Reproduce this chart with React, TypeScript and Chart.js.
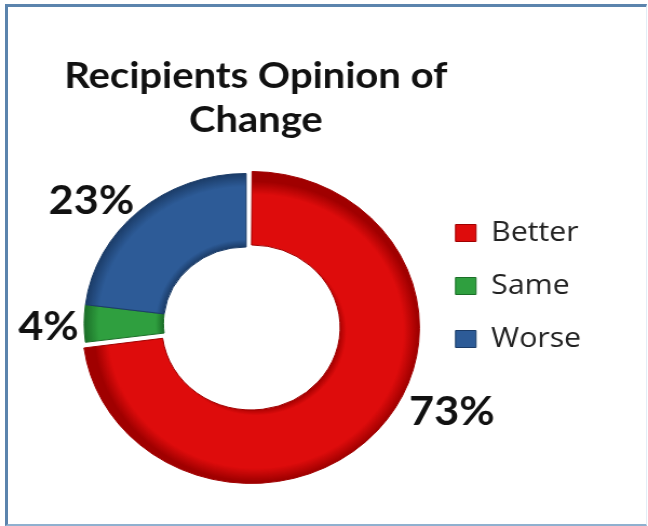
import React, { useEffect, useRef } from "react";
import { Chart, registerables } from "chart.js";

Chart.register(...registerables);

// ---- data ----
const categories = ["Better", "Same", "Worse"];
const values = [73, 4, 23];
const percentLabels = ["73%", "4%", "23%"];
const titleLines = ["Recipients Opinion of", "Change"];

// ---- styles ----
const baseColors = ["#de0c0c", "#2f9f3f", "#2d5b97"];
const edgeColors = ["#a00000", "#1b6e28", "#1b3c68"];
const sliceShift = [6, 0, 0]; // explode distance in px
const labelNudges: [number, number][] = [
  [73.5, -14.7],
  [-33, 4],
  [-44, -10],
];

const SX = 1.08; // horizontal stretch of the whole picture
const CW = 600;
const CH = 526;
const RADIUS = 150;
const CUTOUT = 0.51;

function sliceFill(c: any) {
  const i = c.dataIndex ?? 0;
  const base = baseColors[i % baseColors.length];
  if (c.type !== "data") return base;
  const chart = c.chart;
  const area = chart.chartArea;
  if (!area) return base;
  const total = values.reduce((a, b) => a + b, 0);
  let before = 0;
  for (let k = 0; k < i; k++) before += values[k];
  const mid = -Math.PI / 2 + (2 * Math.PI * (before + values[i] / 2)) / total;
  const off = sliceShift[i] || 0;
  const cx = (area.left + area.right) / 2 + Math.cos(mid) * off;
  const cy = (area.top + area.bottom) / 2 + Math.sin(mid) * off;
  const inner = RADIUS * CUTOUT;
  const g = chart.ctx.createRadialGradient(cx, cy, inner, cx, cy, RADIUS);
  g.addColorStop(0, edgeColors[i]);
  g.addColorStop(0.1, base);
  g.addColorStop(0.82, base);
  g.addColorStop(1, edgeColors[i]);
  return g;
}

const textPlugin = {
  id: "chartTexts",
  afterDatasetsDraw(chart: any) {
    const ctx = chart.ctx as CanvasRenderingContext2D;
    const meta = chart.getDatasetMeta(0);
    ctx.save();
    ctx.fillStyle = "#111";
    ctx.textAlign = "center";
    ctx.textBaseline = "middle";
    ctx.font = "bold 40px Lato, 'Open Sans', sans-serif";
    meta.data.forEach((arc: any, i: number) => {
      const p = arc.getProps(["x", "y", "startAngle", "endAngle", "outerRadius"], true);
      const mid = (p.startAngle + p.endAngle) / 2;
      const r = p.outerRadius + (sliceShift[i] || 0);
      const x = p.x + Math.cos(mid) * r + labelNudges[i][0];
      const y = p.y + Math.sin(mid) * r + labelNudges[i][1];
      ctx.fillText(percentLabels[i], x, y);
    });
    const area = chart.chartArea;
    const tx = (area.left + area.right) / 2 + 9;
    ctx.textBaseline = "alphabetic";
    ctx.font = "bold 37px Lato, 'Open Sans', sans-serif";
    ctx.fillText(titleLines[0], tx, 88);
    ctx.fillText(titleLines[1], tx, 132);
    ctx.restore();
  },
};

export default function App() {
  const canvasRef = useRef<HTMLCanvasElement | null>(null);

  useEffect(() => {
    if (!canvasRef.current) return;
    const chart = new Chart(canvasRef.current, {
      type: "doughnut",
      data: {
        labels: categories,
        datasets: [
          {
            data: values,
            backgroundColor: sliceFill as any,
            borderColor: edgeColors,
            borderWidth: 1,
            // Chart.js arcs move by offset / 4
            offset: sliceShift.map((s) => s * 4),
            hoverOffset: 0,
            radius: RADIUS,
            cutout: `${CUTOUT * 100}%`,
            clip: false as any,
          } as any,
        ],
      },
      options: {
        animation: false,
        responsive: true,
        maintainAspectRatio: false,
        layout: { padding: { top: 194, bottom: 73, left: 59, right: 52 } },
        plugins: {
          tooltip: { enabled: false },
          title: { display: false },
          legend: {
            position: "right",
            align: "start",
            labels: {
              boxWidth: 19,
              boxHeight: 17,
              padding: 25,
              color: "#222",
              font: { family: "'Open Sans', sans-serif", size: 28 },
              generateLabels: () =>
                categories.map((c, i) => ({
                  text: c,
                  fillStyle: baseColors[i],
                  strokeStyle: edgeColors[i],
                  lineWidth: 1,
                  hidden: false,
                  index: i,
                  fontColor: "#222",
                })),
            },
          },
        },
      },
      plugins: [textPlugin],
    });
    return () => chart.destroy();
  }, []);

  return (
    <div style={{ position: "absolute", left: 0, top: 0, width: 648, height: 526, background: "#fff", overflow: "hidden" }}>
      <div
        style={{
          position: "absolute",
          left: 0,
          top: 0,
          width: CW,
          height: CH,
          transform: `scaleX(${SX})`,
          transformOrigin: "0 0",
        }}
      >
        <canvas ref={canvasRef} />
      </div>
      <div
        style={{
          position: "absolute",
          left: 5,
          top: 4,
          width: 648 - 5 - 3 - 2,
          height: 526 - 4 - 3 - 2,
          borderTop: "3px solid #5b84ad",
          borderLeft: "3px solid #5b84ad",
          borderBottom: "2px solid #8fb0cf",
          borderRight: "1px solid #e3edf6",
          pointerEvents: "none",
        }}
      />
    </div>
  );
}
